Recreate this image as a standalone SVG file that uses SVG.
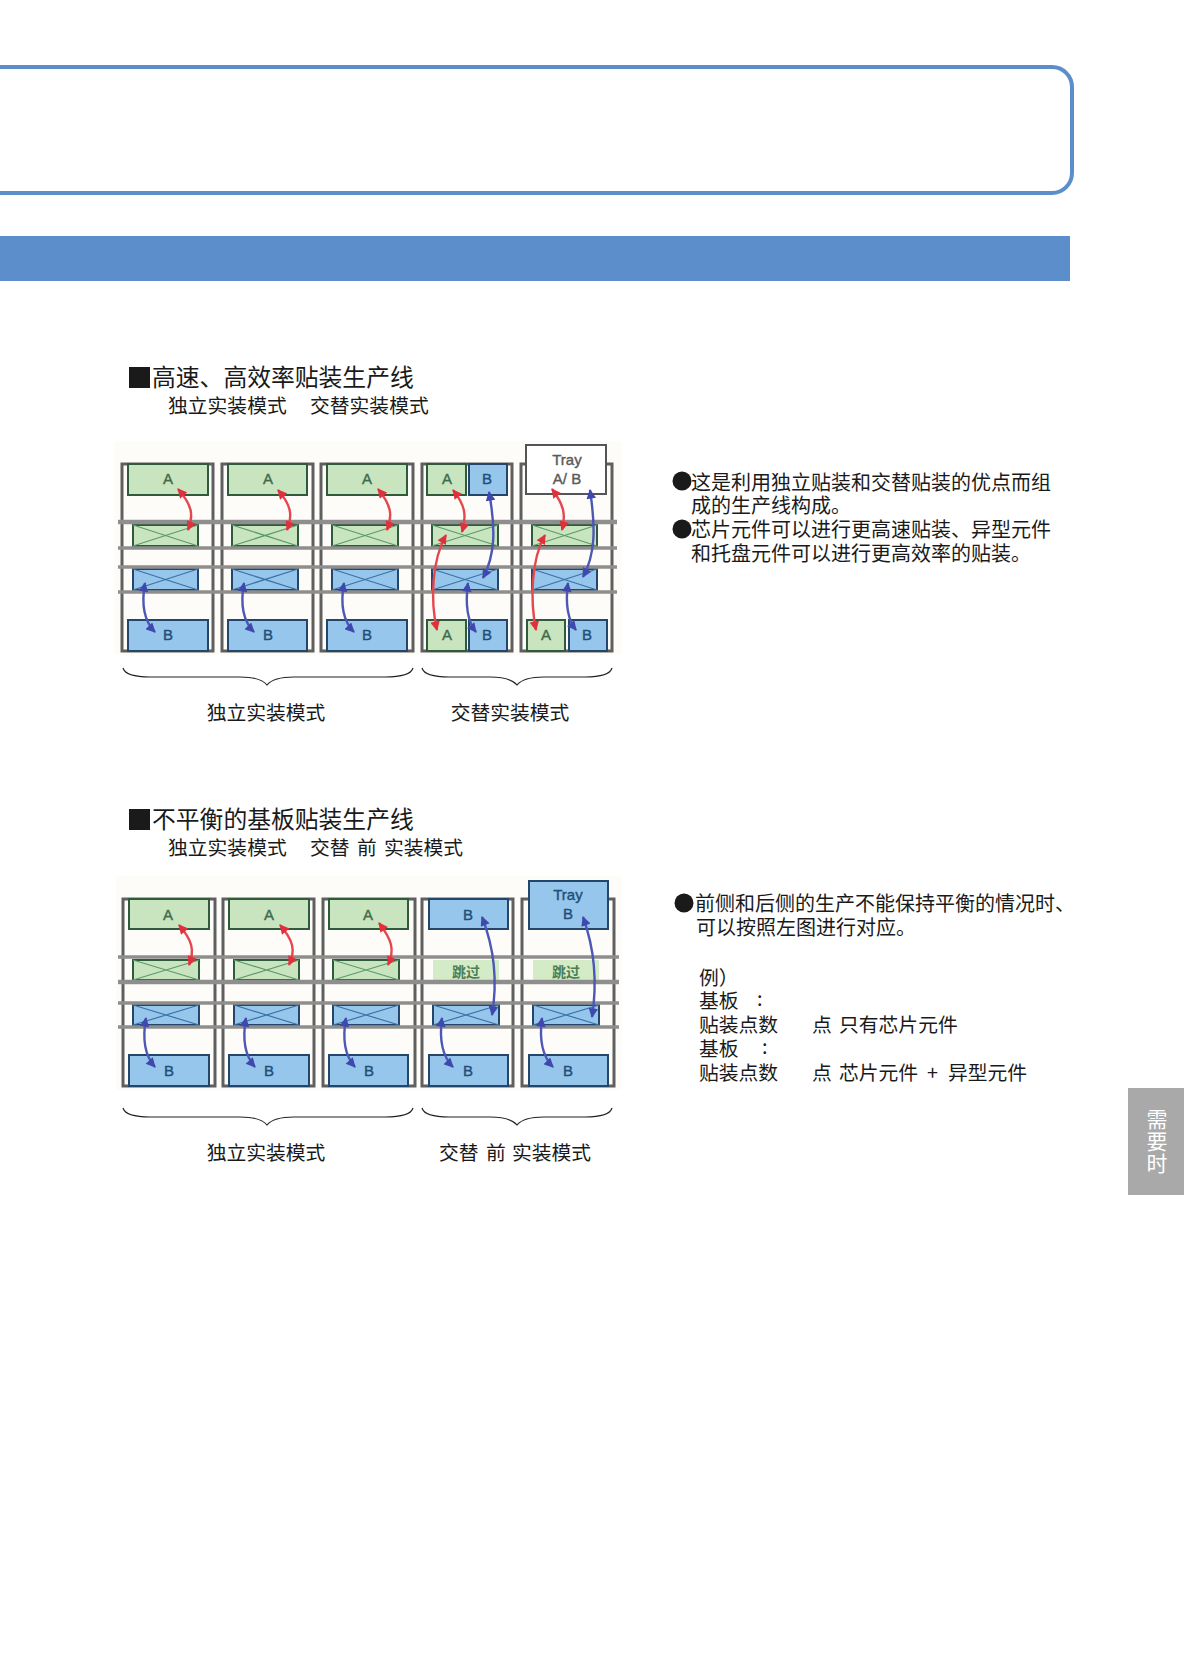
<svg xmlns="http://www.w3.org/2000/svg" width="1184" height="1675" viewBox="0 0 1184 1675">
<style>
text{font-family:"Noto Sans CJK SC","Liberation Sans",sans-serif;fill:#1a1a1a}
.t1{font-size:23.8px}.t2{font-size:19.8px}.t3{font-size:20px}
.lt{font-family:"Liberation Sans",sans-serif;font-size:15px;text-anchor:middle;stroke-width:.4}
.la{fill:#3f6a4c;stroke:#3f6a4c}.lb{fill:#1f4f78;stroke:#1f4f78}.lg{fill:#5a5a5a;stroke:#5a5a5a}
.f{fill:none;stroke:#5f5f5f;stroke-width:3}
.g{fill:#c9e5bf;stroke:#2f5a3c;stroke-width:2}
.b{fill:#97c6ec;stroke:#24466a;stroke-width:2}
.w{fill:#fff;stroke:#555;stroke-width:2}
.xg{fill:none;stroke:#5c9a6c;stroke-width:1.2}
.xb{fill:none;stroke:#3a72a4;stroke-width:1.2}
.r{stroke:#8e8e8e;stroke-width:3.4;fill:none}
.rt{stroke:#8e8e8e;stroke-width:4.4;fill:none}
.ar{fill:none;stroke:#e5474f;stroke-width:2.4;marker-start:url(#mr);marker-end:url(#mr)}
.ab{fill:none;stroke:#4d57b5;stroke-width:2.4;marker-start:url(#mb);marker-end:url(#mb)}
.br{fill:none;stroke:#222;stroke-width:1.2}
.sk{fill:#d4ebc8}
.skt{font-size:14px;font-weight:700;fill:#4d7f55;text-anchor:middle}
</style>
<defs>
<marker id="mr" viewBox="0 0 10 10" refX="9" refY="5" markerWidth="4.4" markerHeight="4" orient="auto-start-reverse"><path d="M0 0L10 5L0 10z" fill="#e0303c"/></marker>
<marker id="mb" viewBox="0 0 10 10" refX="9" refY="5" markerWidth="4.4" markerHeight="4" orient="auto-start-reverse"><path d="M0 0L10 5L0 10z" fill="#3f49ad"/></marker>
</defs>
<rect width="1184" height="1675" fill="#fff"/>
<g id="header-frame"><rect x="-30" y="67" width="1102" height="126" rx="20" fill="none" stroke="#5b8ecb" stroke-width="4"/></g>
<g id="header-band"><rect x="0" y="236" width="1070" height="45" fill="#5b8ecb"/></g>
<g id="side-tab"><rect x="1128" y="1088" width="56" height="107" fill="#a9a9a9"/>
<text font-size="21" text-anchor="middle" style="fill:#fff"><tspan x="1157" y="1127">需</tspan><tspan x="1157" y="1149">要</tspan><tspan x="1157" y="1171">时</tspan></text></g>

<g id="section1-title">
<rect x="129" y="367" width="21" height="21" fill="#1a1a1a"/>
<text class="t1" x="152" y="386">高速、高效率贴装生产线</text>
<text class="t2" x="168" y="413">独立实装模式</text>
<text class="t2" x="310" y="413">交替实装模式</text>
</g>
<rect x="114" y="441" width="508" height="214" fill="#fdfcf8"/>
<g id="s1-col1"><rect class="f" x="122" y="464" width="91" height="187"/><rect class="g" x="128" y="464" width="80" height="31"/><rect class="b" x="128" y="620" width="80" height="31"/><rect class="g" x="133" y="525" width="65" height="21"/><path class="xg" d="M133 525L198 546M198 525L133 546"/><rect class="b" x="133" y="569" width="65" height="21"/><path class="xb" d="M133 569L198 590M198 569L133 590"/><text class="lt la" x="168" y="484">A</text><text class="lt lb" x="168" y="640">B</text></g>
<g id="s1-col2"><rect class="f" x="222" y="464" width="91" height="187"/><rect class="g" x="228" y="464" width="79" height="31"/><rect class="b" x="228" y="620" width="79" height="31"/><rect class="g" x="232" y="525" width="66" height="21"/><path class="xg" d="M232 525L298 546M298 525L232 546"/><rect class="b" x="232" y="569" width="66" height="21"/><path class="xb" d="M232 569L298 590M298 569L232 590"/><text class="lt la" x="268" y="484">A</text><text class="lt lb" x="268" y="640">B</text></g>
<g id="s1-col3"><rect class="f" x="321" y="464" width="92" height="187"/><rect class="g" x="327" y="464" width="80" height="31"/><rect class="b" x="327" y="620" width="80" height="31"/><rect class="g" x="332" y="525" width="66" height="21"/><path class="xg" d="M332 525L398 546M398 525L332 546"/><rect class="b" x="332" y="569" width="66" height="21"/><path class="xb" d="M332 569L398 590M398 569L332 590"/><text class="lt la" x="367" y="484">A</text><text class="lt lb" x="367" y="640">B</text></g>
<g id="s1-col4"><rect class="f" x="422" y="464" width="90" height="187"/><rect class="g" x="427" y="464" width="39" height="31"/><rect class="b" x="469" y="464" width="38" height="31"/><rect class="g" x="427" y="620" width="39" height="31"/><rect class="b" x="469" y="620" width="38" height="31"/><rect class="g" x="432" y="525" width="66" height="21"/><path class="xg" d="M432 525L498 546M498 525L432 546"/><rect class="b" x="432" y="569" width="66" height="21"/><path class="xb" d="M432 569L498 590M498 569L432 590"/><text class="lt la" x="447" y="484">A</text><text class="lt lb" x="487" y="484">B</text><text class="lt la" x="447" y="640">A</text><text class="lt lb" x="487" y="640">B</text></g>
<g id="s1-col5"><rect class="f" x="521" y="464" width="91" height="187"/><rect class="w" x="526" y="445" width="80" height="49"/><rect class="g" x="527" y="620" width="38" height="31"/><rect class="b" x="569" y="620" width="38" height="31"/><rect class="g" x="532" y="525" width="65" height="21"/><path class="xg" d="M532 525L597 546M597 525L532 546"/><rect class="b" x="532" y="569" width="65" height="21"/><path class="xb" d="M532 569L597 590M597 569L532 590"/><text class="lt lg" x="567" y="465">Tray</text><text class="lt lg" x="567" y="484">A/ B</text><text class="lt la" x="546" y="640">A</text><text class="lt lb" x="587" y="640">B</text></g>
<g id="s1-rails"><path class="rt" d="M118 522H617"/><path class="r" d="M118 548H617M118 567H617M118 592H617"/></g>
<g id="s1-connectors">
<path class="ar" d="M178 489C192 505 194 515 188 530"/><path class="ab" d="M145 583C141 605 145 622 155 632"/>
<path class="ar" d="M278 490C291 505 293 515 287 530"/><path class="ab" d="M244 583C240 605 244 622 254 632"/>
<path class="ar" d="M378 489C391 505 393 515 387 530"/><path class="ab" d="M344 583C340 605 344 622 354 632"/>
<path class="ar" d="M453 490C465 505 467 515 462 532"/><path class="ar" d="M446 535C432 560 430 600 437 630"/><path class="ab" d="M489 492C496 530 495 555 483 578"/><path class="ab" d="M468 583C465 605 468 622 476 632"/>
<path class="ar" d="M552 489C564 505 566 515 562 530"/><path class="ar" d="M545 535C531 560 530 600 536 630"/><path class="ab" d="M590 490C596 530 595 555 583 577"/><path class="ab" d="M568 583C565 605 568 620 576 630"/>
</g>
<g id="s1-braces"><path class="br" d="M123 668C125 675 135 677 150 677L240 677C255 677 263 680 267 685C271 680 279 677 294 677L385 677C400 677 411 675 413 668"/>
<path class="br" d="M422 668C424 675 434 677 449 677L490 677C505 677 513 680 517 685C521 680 529 677 544 677L585 677C600 677 610 675 612 668"/></g>
<g id="s1-labels"><text class="t2" x="266" y="720" text-anchor="middle">独立实装模式</text><text class="t2" x="510" y="720" text-anchor="middle">交替实装模式</text></g>
<g id="s1-notes">
<circle cx="682" cy="481" r="9.5" fill="#1a1a1a"/><circle cx="682" cy="529" r="9.5" fill="#1a1a1a"/>
<text class="t3"><tspan x="691" y="490">这是利用独立贴装和交替贴装的优点而组</tspan><tspan x="691" y="513">成的生产线构成。</tspan><tspan x="691" y="537">芯片元件可以进行更高速贴装、异型元件</tspan><tspan x="691" y="561">和托盘元件可以进行更高效率的贴装。</tspan></text>
</g>

<g id="section2-title">
<rect x="129" y="809" width="21" height="21" fill="#1a1a1a"/>
<text class="t1" x="152" y="828">不平衡的基板贴装生产线</text>
<text class="t2" x="168" y="855">独立实装模式</text>
<text class="t2" x="310" y="855">交替</text><text class="t2" x="357" y="855">前</text><text class="t2" x="384" y="855">实装模式</text>
</g>
<rect x="116" y="876" width="506" height="214" fill="#fdfcf8"/>
<g id="s2-col1"><rect class="f" x="123" y="899" width="92" height="187"/><rect class="g" x="129" y="899" width="80" height="30"/><rect class="b" x="129" y="1055" width="80" height="31"/><rect class="g" x="133" y="960" width="66" height="20"/><path class="xg" d="M133 960L199 980M199 960L133 980"/><rect class="b" x="133" y="1005" width="66" height="20"/><path class="xb" d="M133 1005L199 1025M199 1005L133 1025"/><text class="lt la" x="168" y="920">A</text><text class="lt lb" x="169" y="1076">B</text></g>
<g id="s2-col2"><rect class="f" x="223" y="899" width="91" height="187"/><rect class="g" x="229" y="899" width="80" height="30"/><rect class="b" x="229" y="1055" width="80" height="31"/><rect class="g" x="234" y="960" width="65" height="20"/><path class="xg" d="M234 960L299 980M299 960L234 980"/><rect class="b" x="234" y="1005" width="65" height="20"/><path class="xb" d="M234 1005L299 1025M299 1005L234 1025"/><text class="lt la" x="269" y="920">A</text><text class="lt lb" x="269" y="1076">B</text></g>
<g id="s2-col3"><rect class="f" x="323" y="899" width="92" height="187"/><rect class="g" x="329" y="899" width="79" height="30"/><rect class="b" x="329" y="1055" width="79" height="31"/><rect class="g" x="333" y="960" width="66" height="20"/><path class="xg" d="M333 960L399 980M399 960L333 980"/><rect class="b" x="333" y="1005" width="66" height="20"/><path class="xb" d="M333 1005L399 1025M399 1005L333 1025"/><text class="lt la" x="368" y="920">A</text><text class="lt lb" x="369" y="1076">B</text></g>
<g id="s2-col4"><rect class="f" x="422" y="899" width="91" height="187"/><rect class="b" x="429" y="899" width="79" height="30"/><rect class="b" x="429" y="1055" width="79" height="31"/><rect class="sk" x="433" y="960" width="66" height="20"/><text class="skt" x="466" y="977">跳过</text><rect class="b" x="433" y="1005" width="66" height="20"/><path class="xb" d="M433 1005L499 1025M499 1005L433 1025"/><text class="lt lb" x="468" y="920">B</text><text class="lt lb" x="468" y="1076">B</text></g>
<g id="s2-col5"><rect class="f" x="522" y="899" width="92" height="187"/><rect class="b" x="529" y="881" width="79" height="48"/><rect class="b" x="529" y="1055" width="79" height="31"/><rect class="sk" x="533" y="960" width="66" height="20"/><text class="skt" x="566" y="977">跳过</text><rect class="b" x="533" y="1005" width="66" height="20"/><path class="xb" d="M533 1005L599 1025M599 1005L533 1025"/><text class="lt lb" x="568" y="900">Tray</text><text class="lt lb" x="568" y="919">B</text><text class="lt lb" x="568" y="1076">B</text></g>
<g id="s2-rails"><path class="r" d="M118 957H619M118 1003H619M118 1027H619"/><path class="rt" d="M118 982H619"/></g>
<g id="s2-connectors">
<path class="ar" d="M179 925C192 940 195 950 189 965"/><path class="ab" d="M146 1018C142 1040 146 1057 155 1067"/>
<path class="ar" d="M280 925C293 940 296 950 289 965"/><path class="ab" d="M246 1018C242 1040 246 1057 255 1067"/>
<path class="ar" d="M379 923C392 940 395 950 388 965"/><path class="ab" d="M346 1018C342 1040 346 1057 355 1067"/>
<path class="ab" d="M482 917C495 950 497 985 492 1015"/><path class="ab" d="M442 1018C439 1040 443 1057 453 1067"/>
<path class="ab" d="M583 917C595 950 597 985 592 1017"/><path class="ab" d="M542 1018C539 1040 543 1057 553 1067"/>
</g>
<g id="s2-braces"><path class="br" d="M123 1108C125 1115 135 1117 150 1117L240 1117C255 1117 263 1120 267 1125C271 1120 279 1117 294 1117L385 1117C400 1117 411 1115 413 1108"/>
<path class="br" d="M422 1108C424 1115 434 1117 449 1117L490 1117C505 1117 513 1120 517 1125C521 1120 529 1117 544 1117L585 1117C600 1117 610 1115 612 1108"/></g>
<g id="s2-labels"><text class="t2" x="266" y="1160" text-anchor="middle">独立实装模式</text><text class="t2" x="439" y="1160">交替</text><text class="t2" x="486" y="1160">前</text><text class="t2" x="512" y="1160">实装模式</text></g>
<g id="s2-notes">
<circle cx="684" cy="903" r="9.5" fill="#1a1a1a"/>
<text class="t3"><tspan x="695" y="911">前侧和后侧的生产不能保持平衡的情况时、</tspan><tspan x="696" y="935">可以按照左图进行对应。</tspan></text>
<text class="t2"><tspan x="699" y="985">例）</tspan><tspan x="699" y="1008">基板</tspan><tspan x="757" y="1006">:</tspan><tspan x="699" y="1032">贴装点数</tspan><tspan x="812" y="1032">点</tspan><tspan x="839" y="1032">只有芯片元件</tspan><tspan x="699" y="1056">基板</tspan><tspan x="762" y="1054">:</tspan><tspan x="699" y="1080">贴装点数</tspan><tspan x="812" y="1080">点</tspan><tspan x="839" y="1080">芯片元件</tspan><tspan x="927" y="1080">+</tspan><tspan x="948" y="1080">异型元件</tspan></text>
</g>
</svg>
